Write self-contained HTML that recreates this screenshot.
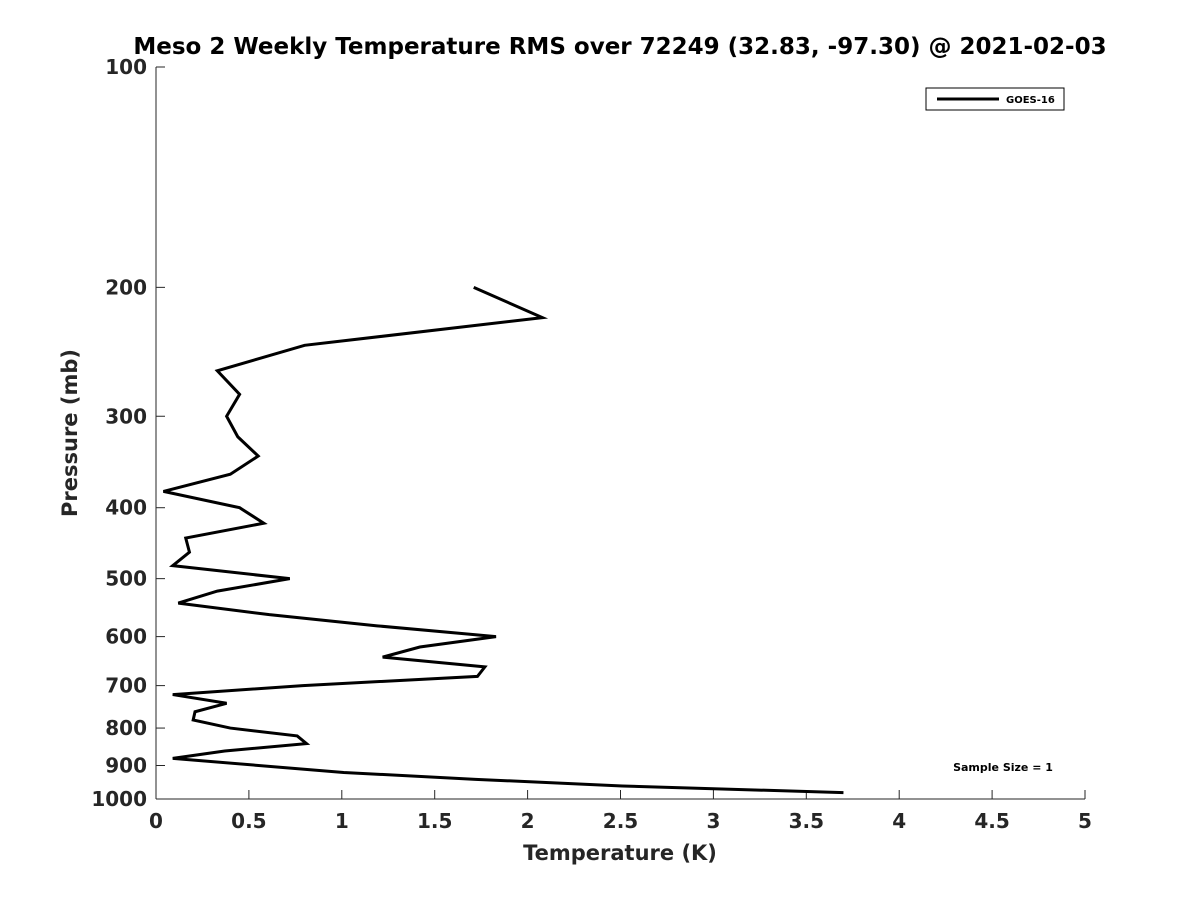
<!DOCTYPE html>
<html><head><meta charset="utf-8"><style>
body{margin:0;background:#fff}
svg text{font-family:"DejaVu Sans","Liberation Sans",sans-serif;font-weight:bold;fill:#262626}
</style></head><body>
<svg id="chart" width="1200" height="900" xmlns="http://www.w3.org/2000/svg">
<text x="620" y="54" text-anchor="middle" font-size="23" style="fill:#000">Meso 2 Weekly Temperature RMS over 72249 (32.83, -97.30) @ 2021-02-03</text>
<g id="axes"></g>
<text x="620" y="860" text-anchor="middle" font-size="21">Temperature (K)</text>
<text transform="translate(77,433) rotate(-90)" text-anchor="middle" font-size="21">Pressure (mb)</text>
<g>
<rect x="926" y="88" width="138" height="22" fill="#fff" stroke="#000" stroke-width="1"/>
<line x1="937" y1="99" x2="999" y2="99" stroke="#000" stroke-width="3"/>
<text x="1006" y="103" font-size="10" style="fill:#000">GOES-16</text>
</g>
<text x="1003" y="771" text-anchor="middle" font-size="11" style="fill:#000">Sample Size = 1</text>
</svg>
<script>
const temps=[1.71,2.08,0.80,0.33,0.45,0.38,0.44,0.55,0.40,0.04,0.45,0.58,0.16,0.18,0.09,0.72,0.33,0.12,0.61,1.19,1.83,1.42,1.22,1.77,1.73,0.79,0.09,0.38,0.21,0.20,0.40,0.76,0.81,0.37,0.09,1.01,1.72,2.51,3.70];
const pressures=[200,220,240,260,280,300,320,340,360,380,400,420,440,460,480,500,520,540,560,580,600,620,640,660,680,700,720,740,760,780,800,820,840,860,880,920,940,960,980];
const xTicks=[0,0.5,1,1.5,2,2.5,3,3.5,4,4.5,5];
const yTicks=[100,200,300,400,500,600,700,800,900,1000];
const NS="http://www.w3.org/2000/svg";
const x0=156,x1=1085,y0=67,y1=799;
const X=v=>x0+(v-0)/(5-0)*(x1-x0);
const Y=p=>y0+(Math.log10(p)-2)/(1)*(y1-y0);
const g=document.getElementById('axes');
function mk(t,a){const e=document.createElementNS(NS,t);for(const k in a)e.setAttribute(k,a[k]);g.appendChild(e);return e;}
let e=mk('line',{x1:x0,y1:y1,x2:x1,y2:y1,stroke:'#262626','stroke-width':1});


e=mk('line',{x1:x0,y1:y0,x2:x0,y2:y1,stroke:'#262626','stroke-width':1});


xTicks.forEach(v=>{
 mk('line',{x1:X(v),y1:y1,x2:X(v),y2:y1-9,stroke:'#262626'});
 const t=mk('text',{x:X(v),y:y1+29,'text-anchor':'middle','font-size':20});
 t.textContent=v;
 
 
});
yTicks.forEach(v=>{
 mk('line',{x1:x0,y1:Y(v),x2:x0+9,y2:Y(v),stroke:'#262626'});
 const t=mk('text',{x:x0-9,y:Y(v)+7,'text-anchor':'end','font-size':20});
 t.textContent=v;
 
 
});
const pl=mk('polyline',{points:temps.map((t,i)=>X(t)+','+Y(pressures[i])).join(' '),fill:'none',stroke:'#000','stroke-width':3,'stroke-linejoin':'miter'});


</script>
</body></html>
